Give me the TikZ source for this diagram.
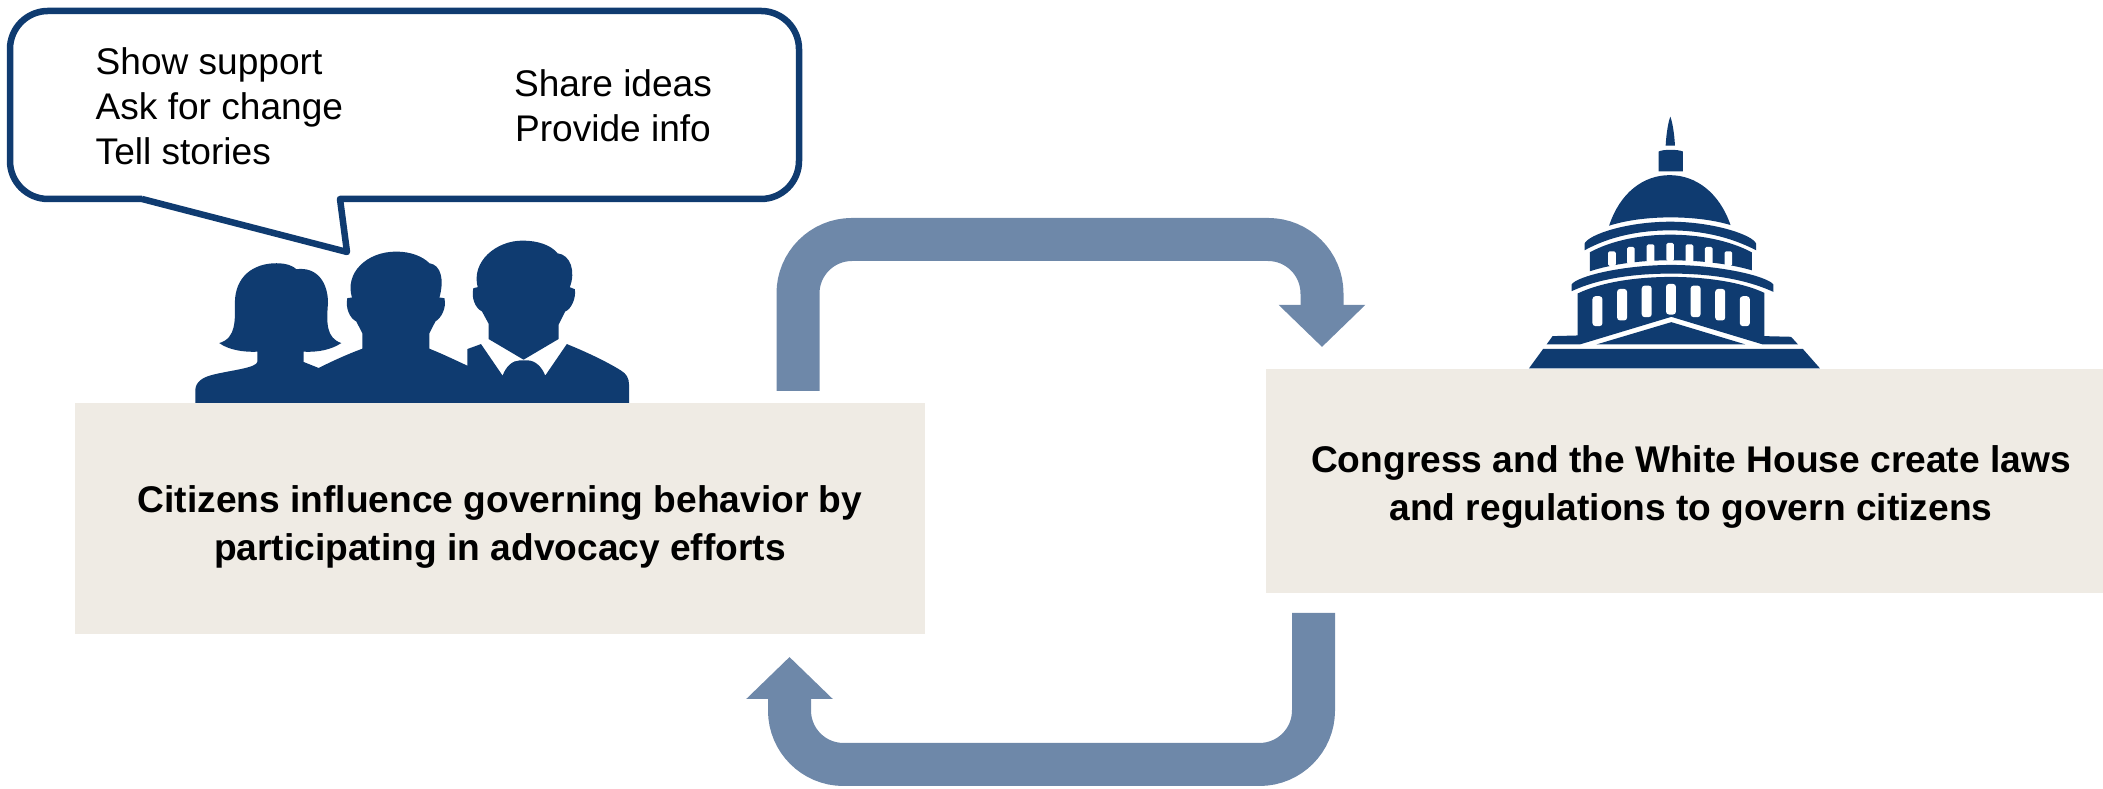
\documentclass[tikz,border=0pt]{standalone}
\usepackage{fontspec}
\setmainfont{Liberation Sans}
\usetikzlibrary{arrows.meta}

\definecolor{navy}{HTML}{0F3B70}
\definecolor{steel}{HTML}{6E88A9}
\definecolor{sand}{HTML}{EFEBE4}

\tikzset{
    textbox/.style={fill=sand, minimum width=8.5cm, align=center,
        font=\fontsize{10.57}{13.6}\selectfont\bfseries},
    saying/.style={font=\fontsize{10.55}{12.8}\selectfont, inner sep=0pt},
    bubble/.style={draw=navy, line width=0.065cm, line join=round, fill=white},
    flow/.style={draw=steel, line width=0.43cm, rounded corners=0.54cm,
        -{Triangle[width=0.84cm, length=0.42cm, color=steel]}},
    zoomed/.style={x=0.003333cm, y=-0.003333cm}
}

\begin{document}
\begin{tikzpicture}
    \clip (0,0) rectangle (21.03,7.89);

    % Draw text boxes
    \node[textbox, minimum height=2.31cm] (citizens) at (5.00,2.705) {\rule{0pt}{12.6pt}Citizens influence governing behavior by\\participating in advocacy efforts};
    \node[textbox, minimum height=2.24cm] (congress) at (16.91,3.08) {\rule{0pt}{11pt}Congress and the White House create laws\\and regulations to govern citizens};

    % Draw speech bubble
    \draw[bubble] (1.42,5.90) -- (3.47,5.37) -- (3.40,5.90)
        [rounded corners=0.38cm] -- (7.99,5.90) -- (7.99,7.78) -- (0.10,7.78) -- (0.10,5.90) -- (1.42,5.90);
    \node[saying, align=left, anchor=west] (asks) at (0.95,6.83) {Show support\\Ask for change\\Tell stories};
    \node[saying, align=center] (shares) at (6.13,6.83) {Share ideas\\Provide info};

    % Draw arrows between boxes
    \coordinate (upstart) at (7.98,3.98);
    \coordinate (uptip) at (13.22,4.42);
    \coordinate (downstart) at (13.135,1.76);
    \coordinate (downtip) at (7.895,1.32);
    \draw[flow] (upstart) -- (upstart |- 0,5.495) -- (uptip |- 0,5.495) -- (uptip);
    \draw[flow] (downstart) -- (downstart |- 0,0.245) -- (downtip |- 0,0.245) -- (downtip);

    % Draw citizens
    \begin{scope}[shift={(1.80,5.59)}, zoomed]
        \fill[navy] (46,520) -- (46,480) .. controls (48,455) and (70,442) .. (100,435)
            .. controls (150,422) and (233,415) .. (233,395) -- (233,366)
            .. controls (190,368) and (145,360) .. (118,340)
            .. controls (170,325) and (165,270) .. (165,220)
            .. controls (165,140) and (220,100) .. (290,100)
            .. controls (320,100) and (340,108) .. (350,118)
            .. controls (410,110) and (445,155) .. (445,220)
            .. controls (440,280) and (440,325) .. (485,340)
            .. controls (455,360) and (415,368) .. (372,366) -- (372,397) -- (417,415)
            .. controls (460,393) and (505,373) .. (548,357) -- (548,310)
            -- (530,275) .. controls (510,265) and (497,235) .. (503,205) -- (517,203)
            .. controls (495,130) and (560,65) .. (650,65)
            .. controls (695,65) and (730,80) .. (750,100)
            .. controls (785,105) and (795,150) .. (780,203) -- (795,205)
            .. controls (802,235) and (785,265) .. (768,275) -- (750,310) -- (750,357)
            .. controls (790,373) and (825,390) .. (864,408) -- (864,358)
            -- (905,343) -- (970,438) .. controls (980,410) and (1000,392) .. (1022,392) -- (1045,392)
            .. controls (1070,392) and (1090,415) .. (1098,438) -- (1163,343)
            .. controls (1230,370) and (1290,400) .. (1325,422)
            .. controls (1342,432) and (1350,445) .. (1350,465) -- (1350,520) -- cycle;
        \fill[navy] (1033,390) -- (928,328) -- (928,282) -- (908,245)
            .. controls (888,235) and (875,205) .. (882,175) -- (895,172)
            .. controls (875,95) and (950,32) .. (1030,32)
            .. controls (1075,32) and (1115,45) .. (1135,70)
            .. controls (1175,75) and (1190,125) .. (1172,172) -- (1187,178)
            .. controls (1192,205) and (1175,240) .. (1158,245) -- (1138,285) -- (1138,328) -- cycle;
    \end{scope}

    % Draw capitol
    \begin{scope}[shift={(15.10,6.89)}, zoomed]
        \fill[navy] (468,137) .. controls (470,100) and (476,65) .. (482,50)
            .. controls (488,65) and (494,100) .. (496,137) -- cycle;
        \fill[navy] (447,215) -- (447,155) .. controls (460,148) and (505,148) .. (520,155) -- (520,215) -- cycle;
        \fill[navy] (298,378) .. controls (330,280) and (400,226) .. (480,226)
            .. controls (560,226) and (630,280) .. (663,376)
            .. controls (560,345) and (400,345) .. (298,378) -- cycle;
        \fill[navy] (224,452) -- (224,432) .. controls (235,405) and (350,366) .. (482,366)
            .. controls (610,366) and (730,405) .. (740,432) -- (740,452)
            .. controls (660,410) and (570,392) .. (482,392)
            .. controls (390,392) and (300,410) .. (224,452) -- cycle;
        \fill[navy] (240,515) -- (240,458) .. controls (310,420) and (400,405) .. (482,405)
            .. controls (565,405) and (655,420) .. (727,458) -- (727,512)
            .. controls (650,490) and (560,482) .. (482,482)
            .. controls (400,482) and (310,492) .. (240,515) -- cycle;
        \fill[navy] (185,575) -- (185,555) .. controls (200,530) and (340,496) .. (485,496)
            .. controls (630,496) and (775,530) .. (792,555) -- (792,577)
            .. controls (700,535) and (590,522) .. (485,522)
            .. controls (380,522) and (270,535) .. (185,575) -- cycle;
        \fill[navy] (203,708) -- (203,582) .. controls (280,545) and (390,532) .. (485,532)
            .. controls (580,532) and (690,545) .. (765,580) -- (765,710) -- (845,712) -- (866,735) -- (760,735)
            -- (485,652) -- (210,735) -- (110,735) -- (128,710) -- cycle;
        \fill[navy] (260,735) -- (485,668) -- (708,735) -- cycle;
        \fill[navy] (57,807) -- (100,748) -- (880,748) -- (932,807) -- cycle;

        % Draw windows
        \foreach \x/\t/\b in {295/455/499, 352/442/493, 411/434/488, 470/430/484, 528/434/488, 586/442/493, 645/455/499}
            \fill[white, rounded corners=0.015cm] (\x,\t) rectangle (\x+23,\b);
        \foreach \x/\t/\b in {248/590/680, 322/568/663, 396/558/653, 469/553/645, 543/558/653, 617/568/663, 691/590/680}
            \fill[white, rounded corners=0.03cm] (\x,\t) rectangle (\x+30,\b);
    \end{scope}
\end{tikzpicture}
\end{document}
